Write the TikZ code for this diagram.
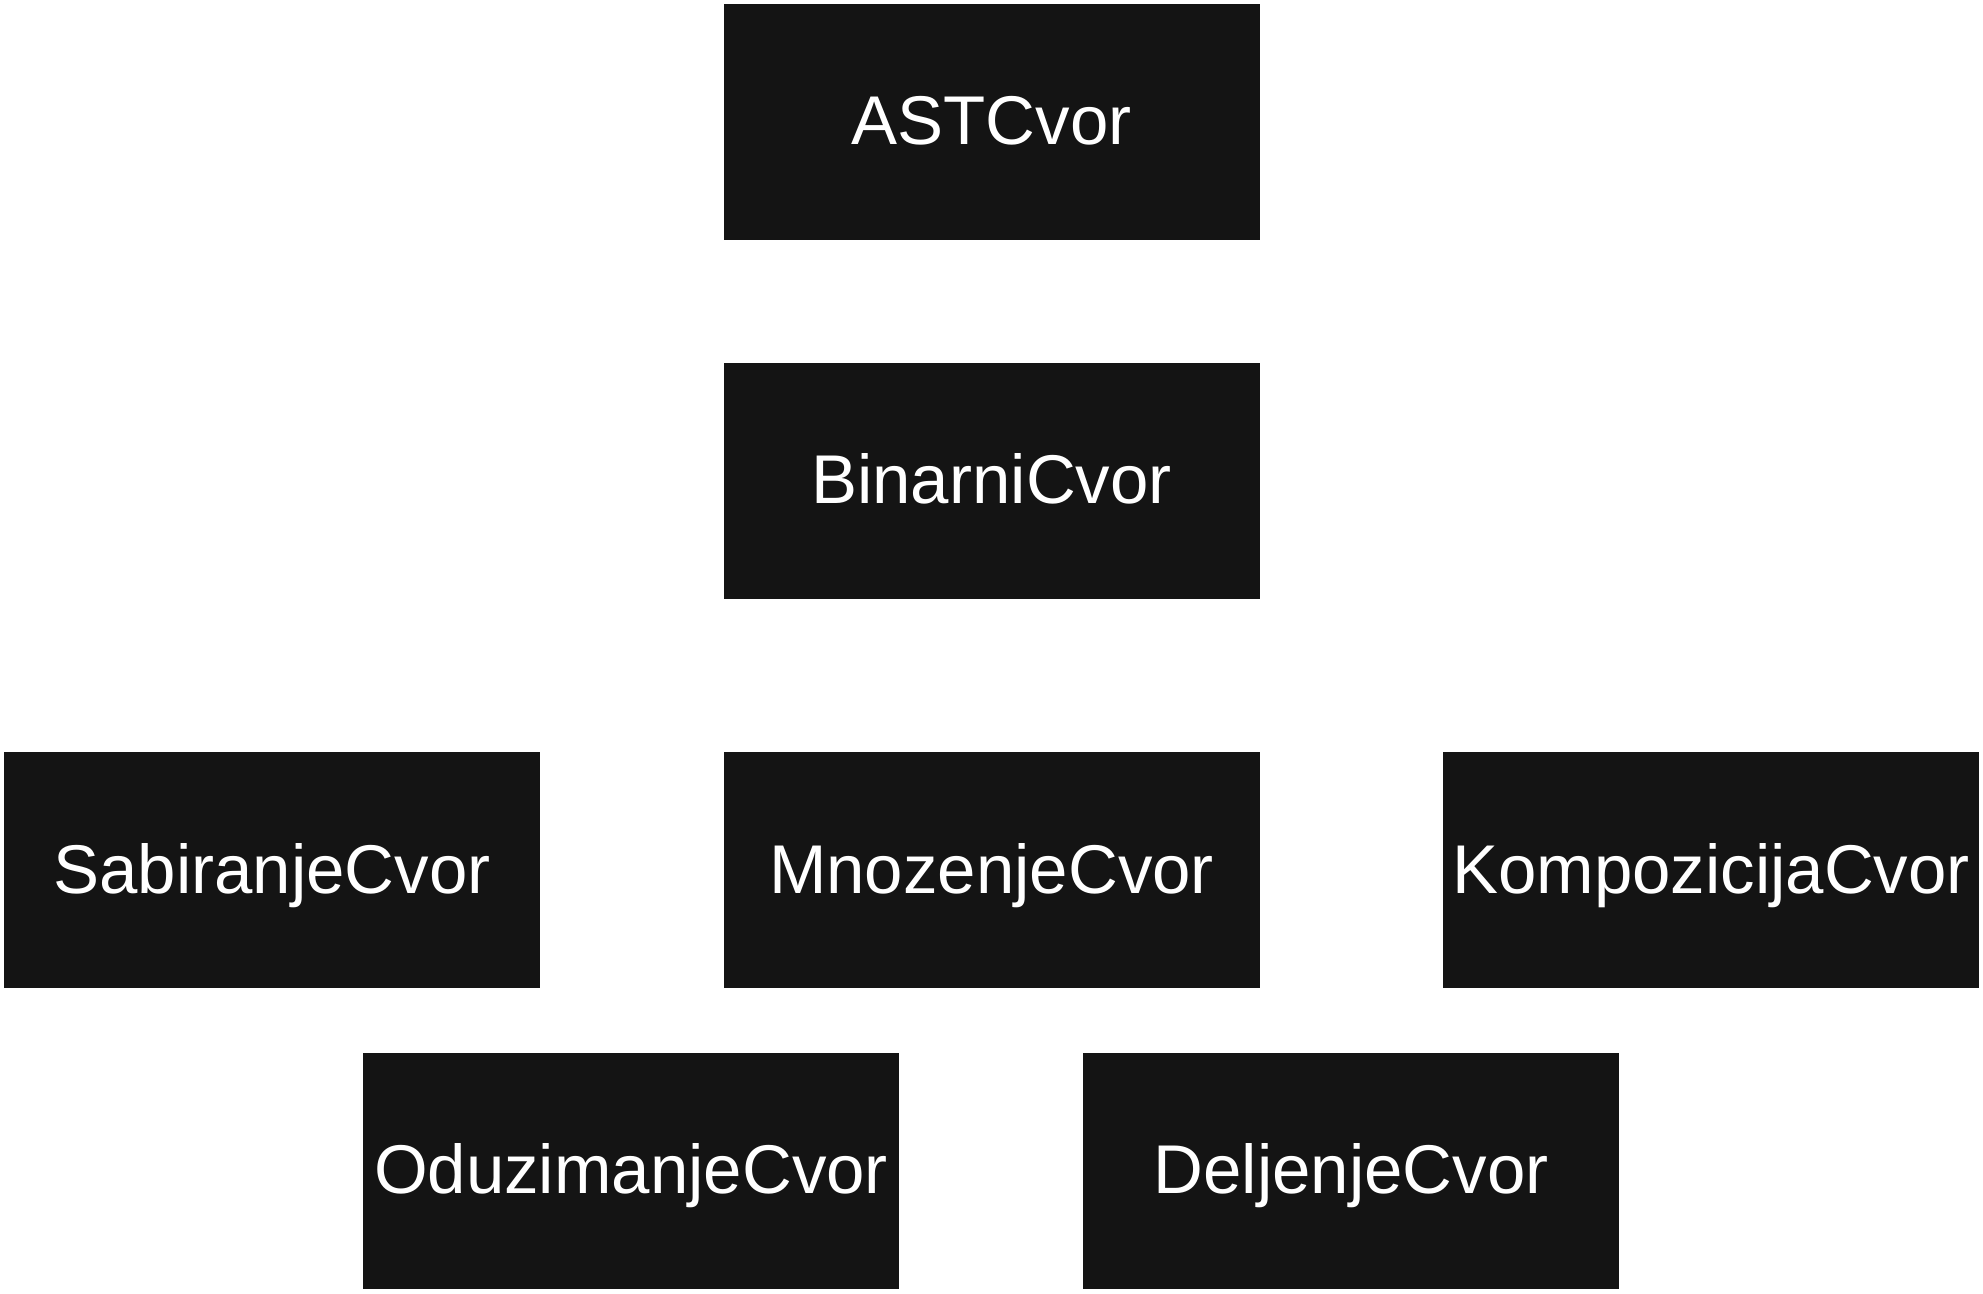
\documentclass[tikz,border=0pt]{standalone}
\usepackage{fontspec}
\setmainfont{Liberation Sans}
\definecolor{boxfill}{HTML}{141414}
\begin{document}
\begin{tikzpicture}[x=1pt,y=-1pt,
  cls/.style={rectangle, fill=boxfill, draw=none, text=white, inner sep=0pt,
    minimum width=536pt, minimum height=236pt, text height=46pt, text depth=0pt,
    font=\fontsize{69}{83}\selectfont}]
\useasboundingbox (0,0) rectangle (1983,1293);
\fill[white] (0,0) rectangle (1983,1293);
\node[cls] (ast) at (991.5,121.5) {ASTCvor};
\node[cls] (bin) at (991.5,480.5) {BinarniCvor};
\node[cls] (sab) at (272,870) {SabiranjeCvor};
\node[cls] (mno) at (991.5,870) {MnozenjeCvor};
\node[cls] (kom) at (1711,870) {KompozicijaCvor};
\node[cls] (odu) at (631,1170.5) {OduzimanjeCvor};
\node[cls] (del) at (1351,1170.5) {DeljenjeCvor};
\end{tikzpicture}
\end{document}
